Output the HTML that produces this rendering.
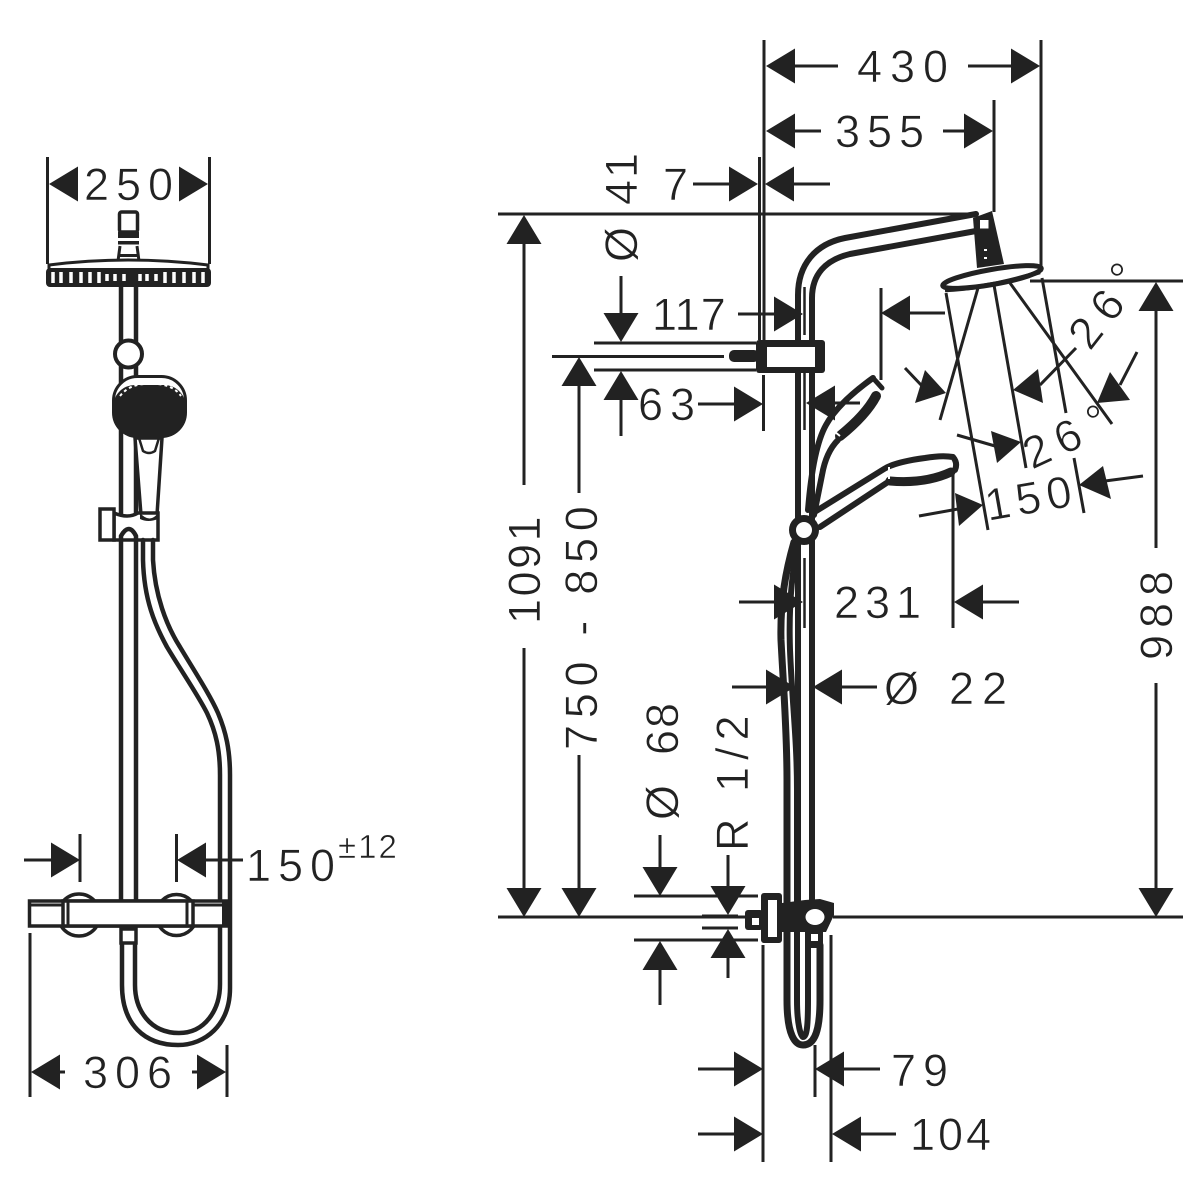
<!DOCTYPE html>
<html><head><meta charset="utf-8"><style>
html,body{margin:0;padding:0;background:#fff}
svg{display:block}
text{font-family:"Liberation Sans",sans-serif;font-size:45px;fill:#222;stroke:#fff;stroke-width:.6px;letter-spacing:7px}
.l{stroke:#222;stroke-width:3;fill:none}
.t{stroke:#222;stroke-width:4.5;fill:none;stroke-linecap:round;stroke-linejoin:round}
.k{stroke:#222;stroke-width:6;fill:none;stroke-linecap:round;stroke-linejoin:round}
.f{fill:#222;stroke:none}
</style></head><body>
<svg width="1200" height="1200" viewBox="0 0 1200 1200" xmlns="http://www.w3.org/2000/svg">
<defs><polygon id="a" points="0,0 -29,-17.500 -29,17.500" fill="#222"/></defs>

<!-- TEXT -->
<text x="84" y="200">250</text>
<text x="246" y="881">150</text>
<text x="338" y="858" style="font-size:33px;letter-spacing:2px">±12</text>
<text x="83" y="1088">306</text>
<text x="857" y="82" style="letter-spacing:8px">430</text>
<text x="835" y="147">355</text>
<text x="663" y="200">7</text>
<text transform="translate(637,262) rotate(-90)">Ø</text>
<text transform="translate(637,205) rotate(-90)" style="letter-spacing:2px">41</text>
<text x="652" y="330" style="letter-spacing:1px">117</text>
<text x="638" y="420">63</text>
<text transform="translate(540,624) rotate(-90)" style="letter-spacing:2.500px">1091</text>
<text transform="translate(597,750) rotate(-90)" style="letter-spacing:6.700px">750 - 850</text>
<text x="834" y="618" style="letter-spacing:6px">231</text>
<text x="884" y="704" style="letter-spacing:0">Ø</text>
<text x="949" y="704" style="letter-spacing:8px">22</text>
<text transform="translate(678,820) rotate(-90)" style="letter-spacing:0">Ø</text>
<text transform="translate(678,755) rotate(-90)" style="letter-spacing:2px">68</text>
<text transform="translate(748,851) rotate(-90)" style="letter-spacing:7px">R 1/2</text>
<text transform="translate(1172,660) rotate(-90)">988</text>
<text x="891" y="1086">79</text>
<text x="910" y="1150" style="letter-spacing:3px">104</text>
<text transform="translate(1090,352) rotate(-52)" style="letter-spacing:10px">26</text>
<text x="1108" y="295">°</text>
<text transform="translate(1032,470) rotate(-25)" style="letter-spacing:9px">26</text>
<text x="1084" y="437">°</text>
<text transform="translate(988,521) rotate(-10)" style="letter-spacing:6px">150</text>

<!-- LEFT DIMENSIONS -->
<path class="l" d="M47.500 157V264M209.500 157V264M80 834V882M176.500 834V882M30 933V1097M227 1045V1097M24 860H52M206 860H243M60 1072H65M192 1072H198"/>
<use href="#a" transform="translate(49,184) rotate(180)"/>
<use href="#a" transform="translate(208,184)"/>
<use href="#a" transform="translate(80,860)"/>
<use href="#a" transform="translate(177,860) rotate(180)"/>
<use href="#a" transform="translate(31,1072) rotate(180)"/>
<use href="#a" transform="translate(226,1072)"/>

<!-- LEFT FIXTURE -->
<path class="t" d="M121 287V900M136 287V900"/>
<rect x="119.500" y="212" width="18" height="20" rx="2" fill="#fff" stroke="#222" stroke-width="3.500"/>
<rect x="118" y="232" width="21" height="6" class="f"/>
<rect x="118" y="241" width="21" height="3.500" class="f"/>
<path d="M120 246L118 261H139L137 246" fill="#fff" stroke="#222" stroke-width="3"/>
<rect x="118" y="254" width="21" height="3" class="f"/>
<path d="M49 265Q128 255 208 265V270H49Z" fill="#fff" stroke="#222" stroke-width="3"/>
<rect x="46" y="268" width="165" height="19" rx="4" class="f"/>
<path d="M53 272V283M61 272V283M71 272V283M81 272V283M90 272V283M99 272V283M107 274V281M115 274V281M124 274V281M140 274V281M147 274V281M156 274V281M165 272V283M174 272V283M184 272V283M194 272V283M203 272V283" stroke="#fff" stroke-width="3.500"/>
<circle cx="128.500" cy="354" r="13.500" fill="#fff" stroke="#222" stroke-width="4"/>
<path d="M135 438L141 515H157L162 438Z" fill="#fff" stroke="#222" stroke-width="3.500"/>
<path d="M139 438L143 451Q149 455 155 451L159 438" fill="none" stroke="#222" stroke-width="2.500"/>
<rect x="113.500" y="376.500" width="72" height="60" rx="24" fill="#fff" stroke="#222" stroke-width="3"/>
<rect x="113" y="385" width="73" height="52" rx="22" class="f"/>
<path d="M120 396Q130 383 150 384Q172 383 181 396" stroke="#fff" stroke-width="2" fill="none" stroke-dasharray="3 3"/>
<path d="M114 513Q128 519 138 513H158V540H114Z" fill="#fff" stroke="#222" stroke-width="3.500"/>
<rect x="100" y="509" width="14" height="31" fill="#fff" stroke="#222" stroke-width="3.500"/>
<path d="M140 513Q150 524 158 513V519Q148 523 140 519Z" class="f"/>
<path d="M121 540V536Q129 522 136 536V540" class="t" fill="#fff"/>
<path class="t" d="M143 540V560C144 600 155 625 167 647C182 672 198 695 207 713C216 732 220 750 220 775V984C220 1010 205 1033 179 1033C150 1033 135 1010 135 985V945M153 540V560C155 595 166 625 180 647C195 672 210 695 218 713C226 732 230 750 230 775V988C230 1025 205 1045 178 1045C145 1045 122 1025 122 985V945"/>
<rect x="121" y="929" width="15" height="14" fill="#fff" stroke="#222" stroke-width="3.500"/>
<circle cx="79" cy="915" r="21" fill="#fff" stroke="#222" stroke-width="3.500"/>
<circle cx="176.500" cy="915" r="20.500" fill="#fff" stroke="#222" stroke-width="3.500"/>
<rect x="29.500" y="901" width="197" height="25" fill="#fff" stroke="#222" stroke-width="3.500"/>
<rect x="63" y="901" width="130" height="25" fill="#fff" stroke="#222" stroke-width="3.500"/>
<path class="l" d="M31 905H62M194 905H226M68 902V925M187 902V925"/>
<rect x="222" y="901" width="8" height="25" class="f"/>

<!-- RIGHT DIMENSION LINES -->
<path class="l" d="M498 214H975M498 917H745M833 917H1183M1030 281H1183M764 40V340M759.500 157V340M763.500 375V431M1041 40V272M994 100V212M795 66H838M968 66H1012M795 131H821M943 131H965M693 184H731M793 184H830M621 276V316M594 343H756M594 370H756M552 356.500H724M621 398V436M579 386V493M579 755V890M524 243V485M524 648V890M738 314H775M698 404H735M1156 310V548M1156 683V889M739 602H776M983 602H1019M732 687H768M841 687H877M953 470V628M881 288V380M909 313H945M832 403H860M660 835V868M660 969V1005M634 896H758M634 940H758M702 916H738M702 928H738M728 855V887M728 958V978M763 945V1162M831 935V1162M815 1045V1097M698 1069H735M843 1069H880M698 1134H735M860 1134H896"/>
<path class="l" d="M946 293L988 530M978 288L940 420M994 285L1026 468M1010 283L1112 424M1042 278L1066 413M1074 458L1084 513M905 368L923 387M1040 385L1076 348M1120 385L1137 352M957 435L995 446M919 516L958 509M1105 481L1143 476"/>
<path d="M804.500 287V335M804.500 373V430M804.500 558V628" stroke="#222" stroke-width="2.500" fill="none"/>

<!-- RIGHT ARROWS -->
<use href="#a" transform="translate(766,66) rotate(180)"/>
<use href="#a" transform="translate(1040,66)"/>
<use href="#a" transform="translate(766,131) rotate(180)"/>
<use href="#a" transform="translate(993,131)"/>
<use href="#a" transform="translate(758,184)"/>
<use href="#a" transform="translate(765,184) rotate(180)"/>
<use href="#a" transform="translate(621,342) rotate(90)"/>
<use href="#a" transform="translate(621,371) rotate(-90)"/>
<use href="#a" transform="translate(579,357) rotate(-90)"/>
<use href="#a" transform="translate(579,917) rotate(90)"/>
<use href="#a" transform="translate(524,215) rotate(-90)"/>
<use href="#a" transform="translate(524,917) rotate(90)"/>
<use href="#a" transform="translate(803,314)"/>
<use href="#a" transform="translate(763,404)"/>
<use href="#a" transform="translate(1156,282) rotate(-90)"/>
<use href="#a" transform="translate(1156,917) rotate(90)"/>
<use href="#a" transform="translate(954,602) rotate(180)"/>
<use href="#a" transform="translate(813,687) rotate(180)"/>
<use href="#a" transform="translate(881,313) rotate(180)"/>
<use href="#a" transform="translate(806,403) rotate(180)"/>
<use href="#a" transform="translate(660,896) rotate(90)"/>
<use href="#a" transform="translate(660,941) rotate(-90)"/>
<use href="#a" transform="translate(728,915) rotate(90)"/>
<use href="#a" transform="translate(728,929) rotate(-90)"/>
<use href="#a" transform="translate(763,1069)"/>
<use href="#a" transform="translate(815,1069) rotate(180)"/>
<use href="#a" transform="translate(763,1134)"/>
<use href="#a" transform="translate(832,1134) rotate(180)"/>
<polygon class="f" points="946,393 925,370 915,403"/>
<polygon class="f" points="1013,390 1038,369 1043,403"/>
<polygon class="f" points="1097,403 1110,372 1130,400"/>
<polygon class="f" points="1021,442 991,431 997,463"/>
<polygon class="f" points="983,505 955,493 959,526"/>
<polygon class="f" points="1079,485 1103,466 1111,499"/>

<!-- RIGHT FIXTURE -->
<path class="k" d="M976 214L845 238C815 244 798 265 798 295V900"/>
<path class="k" d="M976 231L850 254C825 260 812 275 812 298V900"/>
<ellipse cx="992" cy="277" rx="50" ry="7.500" transform="rotate(-10 992 277)" fill="#fff" stroke="#222" stroke-width="5"/>
<path d="M945 290Q990 288 1040 272" stroke="#222" stroke-width="4.500" fill="none"/>
<path class="f" d="M973 218L992 211L1004 264L977 268Z"/>
<rect x="980" y="220" width="8.500" height="8.500" fill="#fff"/>
<path d="M984 250h3M984 258h3" stroke="#fff" stroke-width="2"/>
<!-- upper bracket -->
<rect x="756" y="340" width="69" height="33" rx="3" class="f"/>
<rect x="767" y="347" width="48" height="20" fill="#fff"/>
<rect x="729" y="350" width="30" height="12" rx="5" class="f"/>
<!-- handshower upper -->
<path class="k" d="M873 378Q838 403 826 425Q813 448 808 510"/>
<path class="k" style="stroke-width:5" d="M873 378L882 388"/>
<path class="k" style="stroke-width:10" d="M876 396Q866 415 840 436"/>
<path class="k" d="M838 440Q826 452 822 475L814 515"/>
<path d="M830 428L840 436" stroke="#fff" stroke-width="2"/>
<!-- handshower lower -->
<path class="k" d="M813 513L884 469Q895 462 925 458Q942 455 953 457Q958 463 955 470"/>
<path class="k" style="stroke-width:9" d="M951 472Q925 484 890 481"/>
<path class="k" d="M888 482L820 527"/>
<path d="M889 467V479" stroke="#fff" stroke-width="2"/>
<circle cx="804" cy="530" r="11.500" fill="#fff" stroke="#222" stroke-width="7"/>
<!-- hose -->
<path class="k" style="stroke-width:7" d="M794 542C786 570 780 600 781 640C783 680 787 730 787 780V1000C787 1035 795 1045 803 1045C815 1045 820 1030 820 1000V945"/>
<path class="k" d="M798 545C790 580 789 620 790 650C792 700 797 740 797 790V1000C797 1025 801 1037 803 1037C807 1037 808 1025 808 1000V945"/>
<use href="#a" transform="translate(803,602)"/>
<use href="#a" transform="translate(795,687)"/>
<!-- lower bracket -->
<rect x="745" y="910" width="18" height="20" rx="3" class="f"/>
<rect x="752" y="918" width="7" height="7" fill="#fff"/>
<rect x="761" y="893" width="21" height="50" rx="3" class="f"/>
<rect x="768" y="900" width="9" height="37" fill="#fff"/>
<path class="f" d="M782 903L805 900L820 899L834 903V915L826 932H823V948H805V932H782Z"/>
<ellipse cx="815" cy="917" rx="9.500" ry="8" fill="#fff"/>
<rect x="811" y="934" width="7" height="7" fill="#fff"/>
</svg>
</body></html>
